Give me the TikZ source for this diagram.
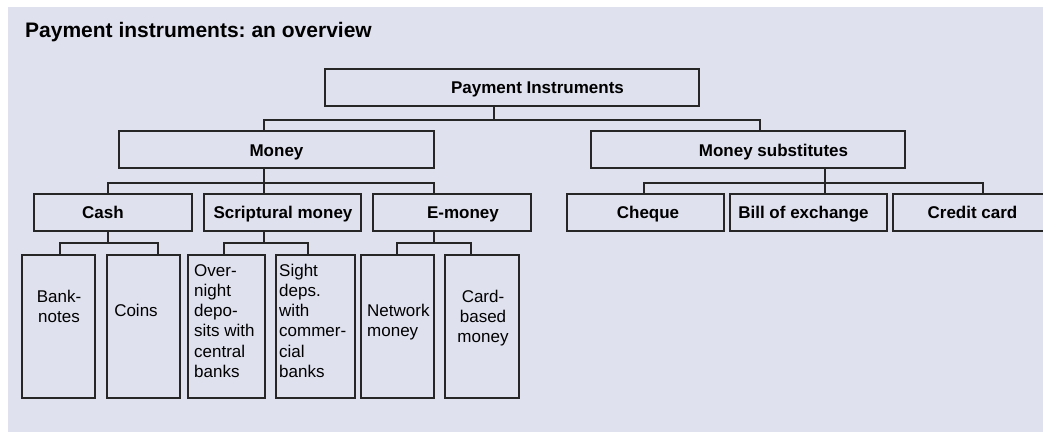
\documentclass[tikz,border=0pt]{standalone}
\usepackage{fontspec}
\setmainfont{Liberation Sans}
\frenchspacing
\definecolor{panel}{RGB}{223,225,238}
\definecolor{ink}{RGB}{38,38,38}
\begin{document}
\begin{tikzpicture}[x=1pt,y=-1pt,
  box/.style={draw=ink,line width=1.8pt,rectangle,inner sep=0pt,anchor=north west},
  head/.style={inner sep=0pt,anchor=base,font=\fontsize{17}{20.3}\selectfont\bfseries,text=black},
  leaf/.style={inner sep=0pt,font=\fontsize{17}{20.3}\selectfont,text=black},
  link/.style={draw=ink,line width=1.8pt}]
\useasboundingbox (0,0) rectangle (1043,432);
\fill[panel] (8,7) rectangle (1043,432);

% title
\node[inner sep=0pt,anchor=base west,font=\fontsize{21}{25}\selectfont\bfseries] (title) at (25,37) {Payment instruments: an overview};

% level 1
\node[box,minimum width=374pt,minimum height=37pt] (pi) at (324,68) {};
\node[head] (pi-t) at (537.5,93) {Payment Instruments};

% level 2
\node[box,minimum width=315pt,minimum height=37pt] (money) at (118,130) {};
\node[head] (money-t) at (276.5,156) {Money};
\node[box,minimum width=314pt,minimum height=37pt] (ms) at (590,130) {};
\node[head] (ms-t) at (773.5,156) {Money substitutes};

% level 3
\node[box,minimum width=158pt,minimum height=37pt] (cash) at (33,193) {};
\node[head] (cash-t) at (103,218) {Cash};
\node[box,minimum width=157pt,minimum height=37pt] (scr) at (203,193) {};
\node[head] (scr-t) at (283,218) {Scriptural money};
\node[box,minimum width=158pt,minimum height=37pt] (emo) at (372,193) {};
\node[head] (emo-t) at (463,218) {E-money};
\node[box,minimum width=157pt,minimum height=37pt] (cheque) at (566,193) {};
\node[head] (cheque-t) at (648,218) {Cheque};
\node[box,minimum width=157pt,minimum height=37pt] (bill) at (729,193) {};
\node[head] (bill-t) at (803.5,218) {Bill of exchange};
\node[box,minimum width=158pt,minimum height=37pt] (credit) at (892,193) {};
\node[head] (credit-t) at (972.5,218) {Credit card};

% level 4
\node[box,minimum width=73pt,minimum height=143pt] (bank) at (21,254) {};
\node[box,minimum width=73pt,minimum height=143pt] (coins) at (106,254) {};
\node[box,minimum width=77pt,minimum height=143pt] (over) at (187,254) {};
\node[box,minimum width=79pt,minimum height=143pt] (sight) at (275,254) {};
\node[box,minimum width=73pt,minimum height=143pt] (net) at (360,254) {};
\node[box,minimum width=74pt,minimum height=143pt] (card) at (444,254) {};

% leaf texts, placed by the baseline of their last line
\node[leaf,align=center,anchor=base] (bank-t) at (59,322.3) {Bank-\\notes};
\node[leaf,anchor=base] (coins-t) at (136,316) {Coins};
\node[leaf,align=left,anchor=base west] (over-t) at (194,377.5) {Over-\\night\\depo-\\sits with\\central\\banks};
\node[leaf,align=left,anchor=base west] (sight-t) at (279,377.5) {Sight\\deps.\\with\\commer-\\cial\\banks};
\node[leaf,align=left,anchor=base west] (net-t) at (367,336.3) {Network\\money};
\node[leaf,align=center,anchor=base] (card-t) at (483,342.6) {Card-\\based\\money};

% connectors
\draw[link] ([xshift=-18pt]pi.south) -- ++(0,13) -| ([xshift=-12.5pt]money.north);
\draw[link] ([xshift=-18pt]pi.south) -- ++(0,13) -| ([xshift=12pt]ms.north);

\draw[link] ([xshift=-12.5pt]money.south) -- ++(0,14) -| ([xshift=-5pt]cash.north);
\draw[link] ([xshift=-12.5pt]money.south) -- ++(0,14) -| ([xshift=-18.5pt]scr.north);
\draw[link] ([xshift=-12.5pt]money.south) -- ++(0,14) -| ([xshift=-18pt]emo.north);

\draw[link] ([xshift=77pt]ms.south) -- ++(0,14) -| ([xshift=-1.5pt]cheque.north);
\draw[link] ([xshift=77pt]ms.south) -- ++(0,14) -| ([xshift=16.5pt]bill.north);
\draw[link] ([xshift=77pt]ms.south) -- ++(0,14) -| ([xshift=11pt]credit.north);

\draw[link] ([xshift=-5pt]cash.south) -- ++(0,11) -| ([xshift=1.5pt]bank.north);
\draw[link] ([xshift=-5pt]cash.south) -- ++(0,11) -| ([xshift=14.5pt]coins.north);
\draw[link] ([xshift=-18.5pt]scr.south) -- ++(0,11) -| ([xshift=-2.5pt]over.north);
\draw[link] ([xshift=-18.5pt]scr.south) -- ++(0,11) -| ([xshift=-7.5pt]sight.north);
\draw[link] ([xshift=-18pt]emo.south) -- ++(0,11) -| ([xshift=-0.5pt]net.north);
\draw[link] ([xshift=-18pt]emo.south) -- ++(0,11) -| ([xshift=-11pt]card.north);
\end{tikzpicture}
\end{document}
